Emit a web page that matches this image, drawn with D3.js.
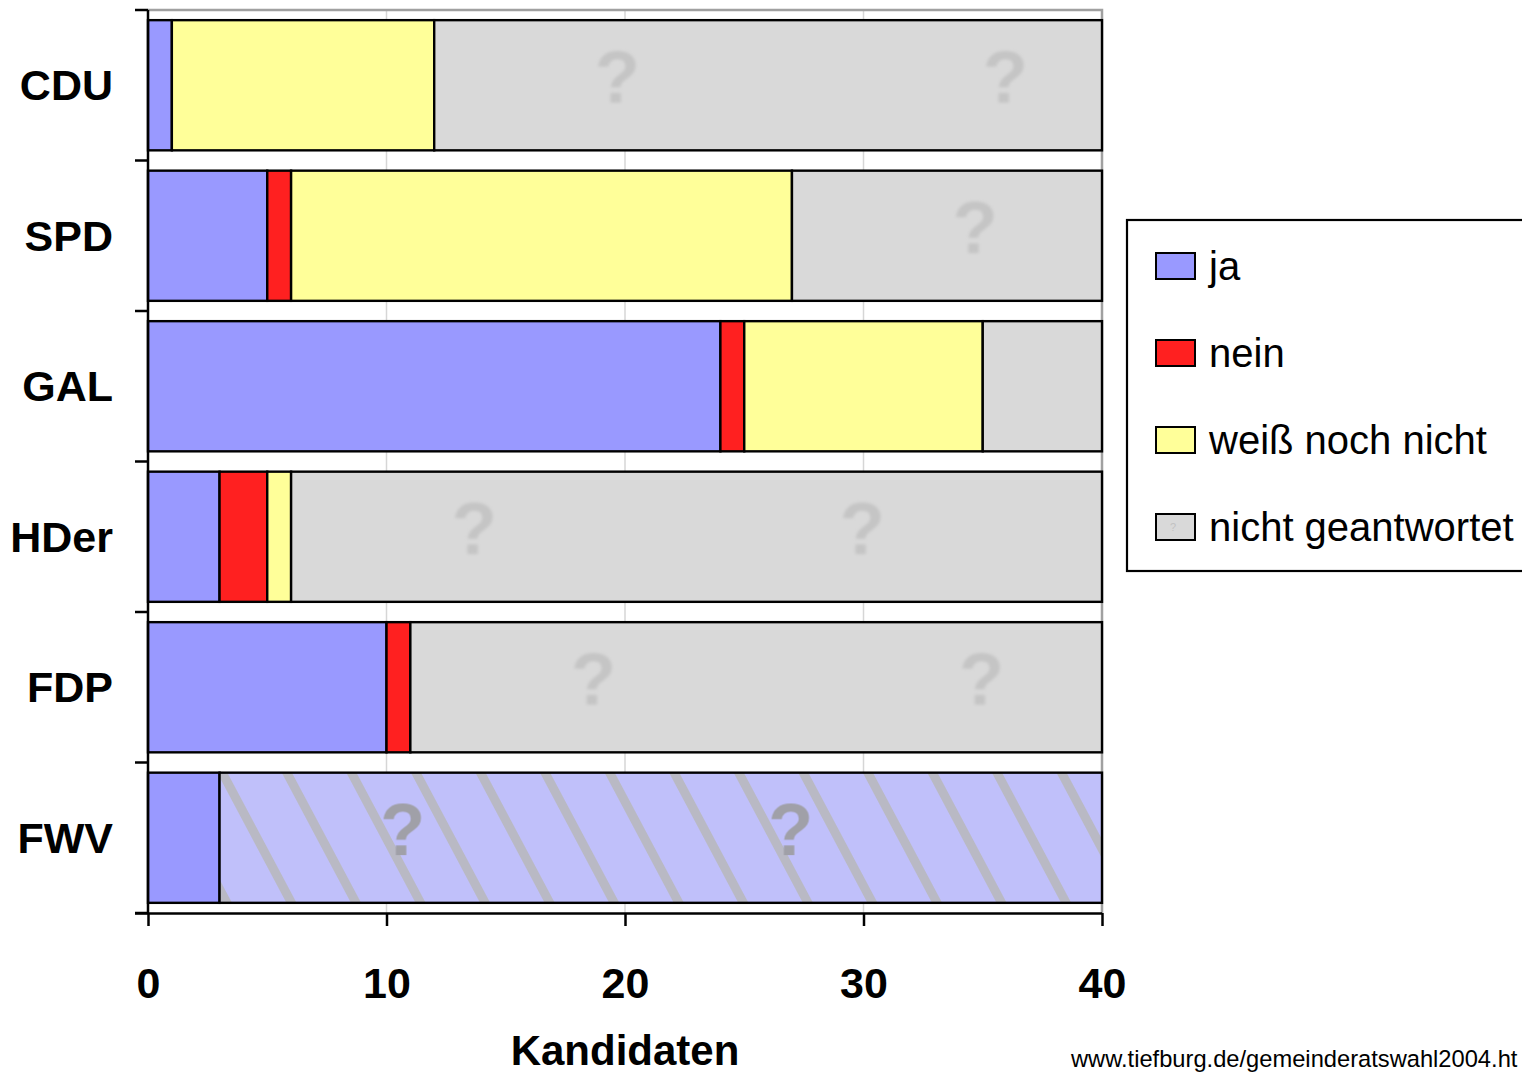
<!DOCTYPE html>
<html>
<head>
<meta charset="utf-8">
<script src="https://cdn.jsdelivr.net/npm/d3@7"></script>
<style>
  html, body { margin: 0; padding: 0; background: #fff; overflow: hidden; }
  svg { display: block; font-family: "Liberation Sans", Arial, sans-serif; }
</style>
</head>
<body>
<svg id="chart" width="1522" height="1075"></svg>
<script>
// ---- data ----
const parties = ["CDU", "SPD", "GAL", "HDer", "FDP", "FWV"];
const ja     = [1, 5, 24, 3, 10, 3];
const nein   = [0, 1, 1, 2, 1, 0];
const weiss  = [11, 21, 10, 1, 0, 0];
const nicht  = [28, 13, 5, 34, 29, 37];
const seriesKeys   = ["ja", "nein", "weiss", "nicht"];
const seriesLabels = ["ja", "nein", "weiß noch nicht", "nicht geantwortet"];
const xTicks = [0, 10, 20, 30, 40];
const xTitle = "Kandidaten";
const sourceText = "www.tiefburg.de/gemeinderatswahl2004.ht";
const hatchedParties = ["FWV"];

(function () {
// ---- build table ----
const table = parties.map((p, i) => ({ party: p, ja: ja[i], nein: nein[i], weiss: weiss[i], nicht: nicht[i] }));
const stacked = d3.stack().keys(seriesKeys)(table);

const colors = { ja: "#9999ff", nein: "#ff2020", weiss: "#ffff99", nicht: "#d9d9d9" };

const svg = d3.select("#chart");
const pL = 148, pR = 1102, pT = 10, pB = 913;

const x = d3.scaleLinear().domain([0, 40]).range([pL, pR]);
const y = d3.scaleBand().domain(parties).range([pT, pB]).paddingInner(0.135).paddingOuter(0.0675);

const defs = svg.append("defs");
defs.append("filter").attr("id", "soft")
  .append("feGaussianBlur").attr("stdDeviation", 1.4);

// diagonal stripes pattern
const stripe = defs.append("pattern").attr("id", "stripes")
  .attr("patternUnits", "userSpaceOnUse")
  .attr("width", 57).attr("height", 20)
  .attr("patternTransform", "rotate(-28)");
stripe.append("rect").attr("width", 57).attr("height", 20).attr("fill", "#c0c0fa");
stripe.append("rect").attr("x", 0).attr("width", 9).attr("height", 20).attr("fill", "#b9b9c4");

// gridlines
svg.append("g").selectAll("line").data(xTicks.slice(1, -1)).join("line")
  .attr("x1", d => x(d)).attr("x2", d => x(d))
  .attr("y1", pT).attr("y2", pB)
  .attr("stroke", "#d6d6d6").attr("stroke-width", 1.5);

// plot area border (top, right)
svg.append("path")
  .attr("d", `M${pL},${pT}H${pR}V${pB}`)
  .attr("fill", "none").attr("stroke", "#a0a0a0").attr("stroke-width", 2.5);

// per-bar "?" patterns for the not-answered segment
const nichtLayer = stacked.find(s => s.key === "nicht");
const tileW = 388;
nichtLayer.forEach((d, i) => {
  const p = d.data.party;
  const hatched = hatchedParties.includes(p);
  const pat = defs.append("pattern").attr("id", "q" + i)
    .attr("patternUnits", "userSpaceOnUse")
    .attr("x", x(d[0])).attr("y", y(p))
    .attr("width", tileW).attr("height", y.bandwidth());
  pat.append("text")
    .attr("x", 183).attr("y", y.bandwidth() / 2 + 17)
    .attr("text-anchor", "middle")
    .attr("font-size", 74).attr("font-weight", "bold")
    .attr("fill", hatched ? "#a0a0a8" : "#c5c5c5")
    .attr("filter", hatched ? null : "url(#soft)")
    .text("?");
});

// bars
const barG = svg.append("g");
stacked.forEach(layer => {
  const segs = layer.filter(d => d[1] - d[0] > 0);
  const g = barG.append("g");
  segs.forEach(d => {
    const p = d.data.party;
    const i = parties.indexOf(p);
    const hatched = layer.key === "nicht" && hatchedParties.includes(p);
    const rx = x(d[0]), rw = x(d[1]) - x(d[0]), ry = y(p), rh = y.bandwidth();
    g.append("rect").attr("x", rx).attr("y", ry).attr("width", rw).attr("height", rh)
      .attr("fill", hatched ? "url(#stripes)" : colors[layer.key]);
    if (layer.key === "nicht") {
      g.append("rect").attr("x", rx).attr("y", ry).attr("width", rw).attr("height", rh)
        .attr("fill", `url(#q${i})`);
    }
    g.append("rect").attr("x", rx).attr("y", ry).attr("width", rw).attr("height", rh)
      .attr("fill", "none").attr("stroke", "#000").attr("stroke-width", 2.4);
  });
});

// left axis line + category ticks
svg.append("line").attr("x1", pL).attr("x2", pL).attr("y1", pT).attr("y2", pB)
  .attr("stroke", "#000").attr("stroke-width", 2.5);
const bandEdges = d3.range(parties.length + 1).map(k => pT + k * y.step());
svg.append("g").selectAll("line").data(bandEdges).join("line")
  .attr("x1", pL - 13).attr("x2", pL).attr("y1", d => d).attr("y2", d => d)
  .attr("stroke", "#000").attr("stroke-width", 2.5);

// category labels
svg.append("g").selectAll("text").data(parties).join("text")
  .attr("x", 113).attr("y", d => y(d) + y.bandwidth() / 2 + 15)
  .attr("text-anchor", "end")
  .attr("font-size", 43).attr("font-weight", "bold").attr("fill", "#000")
  .text(d => d);

// bottom axis
const xAxis = d3.axisBottom(x).tickValues(xTicks).tickSize(13).tickSizeOuter(0).tickFormat(d3.format("d"));
const ax = svg.append("g").attr("transform", `translate(0,${pB})`).call(xAxis);
ax.select(".domain").attr("d", `M${pL - 13},0.5H${pR}`).attr("stroke", "#000").attr("stroke-width", 2.5);
ax.selectAll(".tick line").attr("stroke", "#000").attr("stroke-width", 2.5);
ax.selectAll(".tick text")
  .attr("y", 85).attr("dy", 0)
  .attr("font-size", 43).attr("font-weight", "bold")
  .attr("font-family", "Liberation Sans, Arial, sans-serif").attr("fill", "#000");

// axis title
svg.append("text").attr("x", (pL + pR) / 2).attr("y", 1065)
  .attr("text-anchor", "middle").attr("font-size", 42).attr("font-weight", "bold")
  .text(xTitle);

// source
svg.append("text").attr("x", 1071).attr("y", 1067)
  .attr("font-size", 23.7).attr("fill", "#000").text(sourceText);

// legend
const lg = svg.append("g");
lg.append("rect").attr("x", 1127).attr("y", 220).attr("width", 420).attr("height", 351)
  .attr("fill", "#fff").attr("stroke", "#000").attr("stroke-width", 2.2);
const legendY = d3.scalePoint().domain(seriesKeys).range([266, 527]);
const items = lg.selectAll("g.item").data(seriesKeys).join("g").attr("class", "item");
items.append("rect").attr("x", 1156).attr("y", d => legendY(d) - 13)
  .attr("width", 39).attr("height", 26)
  .attr("fill", d => colors[d]).attr("stroke", "#000").attr("stroke-width", 2);
items.filter(d => d === "nicht").append("text")
  .attr("x", 1173).attr("y", legendY("nicht") + 4).attr("text-anchor", "middle")
  .attr("font-size", 11).attr("fill", "#c2c2c2").text("?");
items.append("text").attr("x", 1209).attr("y", d => legendY(d) + 14)
  .attr("font-size", 40).attr("fill", "#000")
  .text((d, i) => seriesLabels[i]);
})();
</script>
</body>
</html>
